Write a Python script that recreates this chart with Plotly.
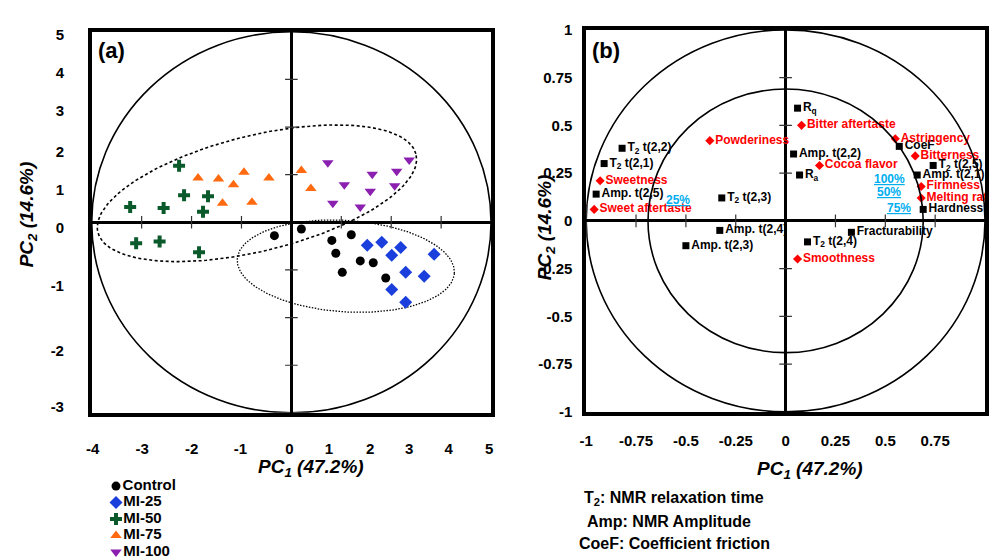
import numpy as np
import plotly.graph_objects as go

W, H = 989, 560
FONT = "Liberation Sans, Arial, Helvetica, sans-serif"

# ---------------- Panel (a): PCA scores ----------------
groups = ["Control", "MI-25", "MI-50", "MI-75", "MI-100"]
control_pc1 = [-0.34, 0.20, 0.81, 1.20, 0.89, 1.38, 1.64, 1.02, 1.89]
control_pc2 = [-0.28, -0.14, -0.38, -0.26, -0.65, -0.81, -0.85, -1.05, -1.17]
mi25_pc1 = [1.52, 1.81, 2.19, 2.01, 2.86, 2.29, 2.66, 2.01, 2.29]
mi25_pc2 = [-0.48, -0.42, -0.53, -0.69, -0.67, -1.05, -1.13, -1.41, -1.68]
mi50_pc1 = [-2.25, -2.15, -1.67, -3.23, -2.56, -1.77, -3.11, -2.64, -1.85]
mi50_pc2 = [1.19, 0.57, 0.55, 0.32, 0.30, 0.22, -0.44, -0.40, -0.63]
mi75_pc1 = [-1.87, -1.46, -0.95, -0.45, -1.16, -1.38, -0.79, 0.20, 0.39]
mi75_pc2 = [0.93, 0.91, 1.05, 0.93, 0.79, 0.40, 0.42, 1.09, 0.71]
mi100_pc1 = [0.73, 2.36, 1.62, 2.11, 1.06, 1.58, 2.07, 0.83, 1.38]
mi100_pc2 = [1.25, 1.31, 1.01, 1.07, 0.79, 0.65, 0.77, 0.40, 0.32]

a_xtick_text = ["-4", "-3", "-2", "-1", "0", "1", "2", "3", "4", "5"]
a_xtick_pos = [-3.98, -2.99, -2.00, -1.02, -0.04, 0.75, 1.58, 2.36, 3.15, 3.96]
a_ytick_text = ["5", "4", "3", "2", "1", "0", "-1", "-2", "-3"]
a_ytick_pos = [3.94, 3.15, 2.34, 1.49, 0.69, -0.12, -1.33, -2.69, -3.88]

# ---------------- Panel (b): loadings ----------------
sens_names = ["Bitter aftertaste", "Powderiness", "Cocoa flavor", "Astringency", "Bitterness",
              "Firmness", "Melting rate", "Sweetness", "Sweet aftertaste", "Smoothness"]
sens_pc1 = [0.08, -0.38, 0.17, 0.55, 0.65, 0.68, 0.68, -0.93, -0.96, 0.06]
sens_pc2 = [0.50, 0.42, 0.29, 0.43, 0.34, 0.18, 0.12, 0.21, 0.06, -0.20]

inst_names = ["R<sub>q</sub>", "Amp. t(2,2)", "R<sub>a</sub>", "CoeF", "T<sub>2</sub> t(2,5)",
              "Amp. t(2,1)", "Hardness", "T<sub>2</sub> t(2,2)", "T<sub>2</sub> t(2,1)",
              "Amp. t(2,5)", "T<sub>2</sub> t(2,3)", "Amp. t(2,4)", "Amp. t(2,3)",
              "T<sub>2</sub> t(2,4)", "Fracturability"]
inst_pc1 = [0.06, 0.04, 0.07, 0.57, 0.74, 0.66, 0.69, -0.82, -0.91, -0.95, -0.32, -0.33, -0.50, 0.11, 0.33]
inst_pc2 = [0.59, 0.35, 0.24, 0.39, 0.29, 0.24, 0.06, 0.38, 0.30, 0.14, 0.12, -0.05, -0.13, -0.11, -0.06]

pct_labels = ["25%", "100%", "50%", "75%"]
pct_pc1 = [-0.54, 0.52, 0.52, 0.57]
pct_pc2 = [0.11, 0.22, 0.15, 0.065]

b_tick_vals = [-1, -0.75, -0.5, -0.25, 0, 0.25, 0.5, 0.75, 1]
b_tick_text = ["-1", "-0.75", "-0.5", "-0.25", "0", "0.25", "0.5", "0.75", "1"]

notes = ["T<sub>2</sub>: NMR relaxation time", "Amp: NMR Amplitude", "CoeF: Coefficient friction"]

# ---------------- styles ----------------
styles = {
    "Control": dict(symbol="circle", color="#000000", size=9),
    "MI-25": dict(symbol="diamond", color="#1a3fdc", size=10),
    "MI-50": dict(symbol="cross", color="#0b5a2c", size=10),
    "MI-75": dict(symbol="triangle-up", color="#ff6a10", size=10),
    "MI-100": dict(symbol="triangle-down", color="#8a1fb0", size=10),
}
series = {
    "Control": (control_pc1, control_pc2),
    "MI-25": (mi25_pc1, mi25_pc2),
    "MI-50": (mi50_pc1, mi50_pc2),
    "MI-75": (mi75_pc1, mi75_pc2),
    "MI-100": (mi100_pc1, mi100_pc2),
}


def px(xp):
    return xp / W


def py(yp):
    return 1 - yp / H


fig = go.Figure()


def ellipse(cx, cy, a, b, ang_deg, n=200):
    t = np.linspace(0, 2 * np.pi, n)
    th = np.deg2rad(ang_deg)
    x = cx + a * np.cos(t) * np.cos(th) - b * np.sin(t) * np.sin(th)
    y = cy + a * np.cos(t) * np.sin(th) + b * np.sin(t) * np.cos(th)
    return x, y


# group ellipses in panel (a)
ex, ey = ellipse(-0.69, 0.61, 3.29, 1.21, 14.6)
fig.add_trace(go.Scatter(x=ex, y=ey, mode="lines", xaxis="x", yaxis="y",
                         line=dict(color="black", width=1.6, dash="3px,2.5px"),
                         hoverinfo="skip", showlegend=False))
ex, ey = ellipse(1.09, -0.92, 2.18, 0.96, -4)
fig.add_trace(go.Scatter(x=ex, y=ey, mode="lines", xaxis="x", yaxis="y",
                         line=dict(color="black", width=1.3, dash="1.5px,1.5px"),
                         hoverinfo="skip", showlegend=False))

# small cross ticks on the centre lines
tk = [-3, -2, -1, 1, 2, 3]
fig.add_trace(go.Scatter(x=[0] * 6, y=tk, mode="markers", xaxis="x", yaxis="y",
                         marker=dict(symbol="line-ew", size=9, line=dict(color="#333", width=1.2)),
                         hoverinfo="skip", showlegend=False))
fig.add_trace(go.Scatter(x=tk, y=[0] * 6, mode="markers", xaxis="x", yaxis="y",
                         marker=dict(symbol="line-ns", size=9, line=dict(color="#333", width=1.2)),
                         hoverinfo="skip", showlegend=False))
tkb = [-0.75, -0.5, -0.25, 0.25, 0.5, 0.75]
fig.add_trace(go.Scatter(x=[0] * 6, y=tkb, mode="markers", xaxis="x2", yaxis="y2",
                         marker=dict(symbol="line-ew", size=9, line=dict(color="#333", width=1.2)),
                         hoverinfo="skip", showlegend=False))
fig.add_trace(go.Scatter(x=tkb, y=[0] * 6, mode="markers", xaxis="x2", yaxis="y2",
                         marker=dict(symbol="line-ns", size=9, line=dict(color="#333", width=1.2)),
                         hoverinfo="skip", showlegend=False))

# score points + legend block (drawn on its own hidden axes)
leg_top, leg_step = 492, 17.0
for i, g in enumerate(groups):
    st = styles[g]
    xs, ys = series[g]
    fig.add_trace(go.Scatter(x=xs, y=ys, mode="markers", name=g, xaxis="x", yaxis="y",
                             marker=dict(symbol=st["symbol"], color=st["color"], size=st["size"],
                                         line=dict(width=0)),
                             showlegend=False))
    fig.add_trace(go.Scatter(x=[110], y=[i], mode="markers+text", text=[g], xaxis="x3", yaxis="y3",
                             textposition="middle right", cliponaxis=False,
                             textfont=dict(family=FONT, size=15, color="black", weight="bold"),
                             marker=dict(symbol=st["symbol"], color=st["color"], size=st["size"],
                                         line=dict(width=0)),
                             hoverinfo="skip", showlegend=False))

# loadings
fig.add_trace(go.Scatter(x=inst_pc1, y=inst_pc2, mode="markers+text", text=inst_names,
                         xaxis="x2", yaxis="y2", textposition="middle right", cliponaxis=False,
                         textfont=dict(family=FONT, size=12, color="black", weight="bold"),
                         marker=dict(symbol="square", color="black", size=7),
                         name="Instrumental", showlegend=False))
fig.add_trace(go.Scatter(x=sens_pc1, y=sens_pc2, mode="markers+text", text=sens_names,
                         xaxis="x2", yaxis="y2", textposition="middle right", cliponaxis=False,
                         textfont=dict(family=FONT, size=12, color="#ff0000", weight="bold"),
                         marker=dict(symbol="diamond", color="#ff0000", size=7),
                         name="Sensory", showlegend=False))

shapes = [
    dict(type="circle", xref="x", yref="y", x0=-4, x1=4, y0=-4, y1=4,
         line=dict(color="black", width=1.6), layer="above"),
    dict(type="circle", xref="x2", yref="y2", x0=-1, x1=1, y0=-1, y1=1,
         line=dict(color="black", width=1.6), layer="above"),
    dict(type="circle", xref="x2", yref="y2", x0=-0.69, x1=0.69, y0=-0.69, y1=0.69,
         line=dict(color="black", width=1.6), layer="above"),
]

annotations = []
for t, x, y in zip(pct_labels, pct_pc1, pct_pc2):
    annotations.append(dict(x=x, y=y, xref="x2", yref="y2", text="<u>" + t + "</u>", showarrow=False,
                            xanchor="center", yanchor="middle",
                            font=dict(family=FONT, size=12, color="#00aeef", weight="bold")))

title_font = dict(family=FONT, size=19, color="black", weight="bold")
center = dict(xref="paper", yref="paper", showarrow=False, xanchor="center", yanchor="middle")
annotations += [
    dict(x=px(105), y=py(43), text="(a)", font=dict(family=FONT, size=22, color="black", weight="bold"), **center),
    dict(x=px(605), y=py(43), text="(b)", font=dict(family=FONT, size=22, color="black", weight="bold"), **center),
    dict(x=px(307), y=py(473), text="<i>PC<sub>1</sub> (47.2%)</i>", font=title_font, **center),
    dict(x=px(810), y=py(475), text="<i>PC<sub>1</sub> (47.2%)</i>", font=title_font, **center),
    dict(x=px(21), y=py(212), text="<i>PC<sub>2</sub> (14.6%)</i>", textangle=-90, font=title_font, **center),
    dict(x=px(544), y=py(225), text="<i>PC<sub>2</sub> (14.6%)</i>", textangle=-90, font=title_font, **center),
]
for t, x, y in zip(notes, [580, 583, 575], [505, 529, 551]):
    annotations.append(dict(x=px(x), y=py(y), xref="paper", yref="paper", text=t, showarrow=False,
                            xanchor="left", yanchor="middle",
                            font=dict(family=FONT, size=16, color="black", weight="bold")))

tickfont = dict(family=FONT, size=15, color="black", weight="bold")
frame = dict(showgrid=False, zeroline=True, zerolinecolor="black", zerolinewidth=3,
             showline=True, mirror=True, linecolor="black", linewidth=3.5,
             ticks="outside", tickcolor="rgba(0,0,0,0)", tickfont=tickfont, fixedrange=True)

leg_bottom_val = max((560 - leg_top) / leg_step, len(groups) - 1 + 0.001)

fig.update_layout(
    width=W, height=H, margin=dict(l=0, r=0, t=0, b=0),
    paper_bgcolor="white", plot_bgcolor="white", showlegend=False,
    xaxis=dict(domain=[px(85.5), px(488.5)], range=[-4, 4], tickvals=a_xtick_pos, ticktext=a_xtick_text,
               ticklen=19, anchor="y", **frame),
    yaxis=dict(domain=[py(416.5), py(23.5)], range=[-4, 4], tickvals=a_ytick_pos, ticktext=a_ytick_text,
               ticklen=21, anchor="x", **frame),
    xaxis2=dict(domain=[px(584.5), px(987)], range=[-1, 1], tickvals=b_tick_vals, ticktext=b_tick_text,
                ticklen=12, anchor="y2", **frame),
    yaxis2=dict(domain=[py(415.5), py(21.5)], range=[-1, 1], tickvals=b_tick_vals, ticktext=b_tick_text,
                ticklen=7, anchor="x2", **frame),
    xaxis3=dict(domain=[px(95), px(260)], range=[95, 260], visible=False, fixedrange=True, anchor="y3"),
    yaxis3=dict(domain=[0, py(476)], range=[leg_bottom_val, (476 - leg_top) / leg_step],
                visible=False, fixedrange=True, anchor="x3"),
    shapes=shapes, annotations=annotations,
)

fig.write_html("out.html")
